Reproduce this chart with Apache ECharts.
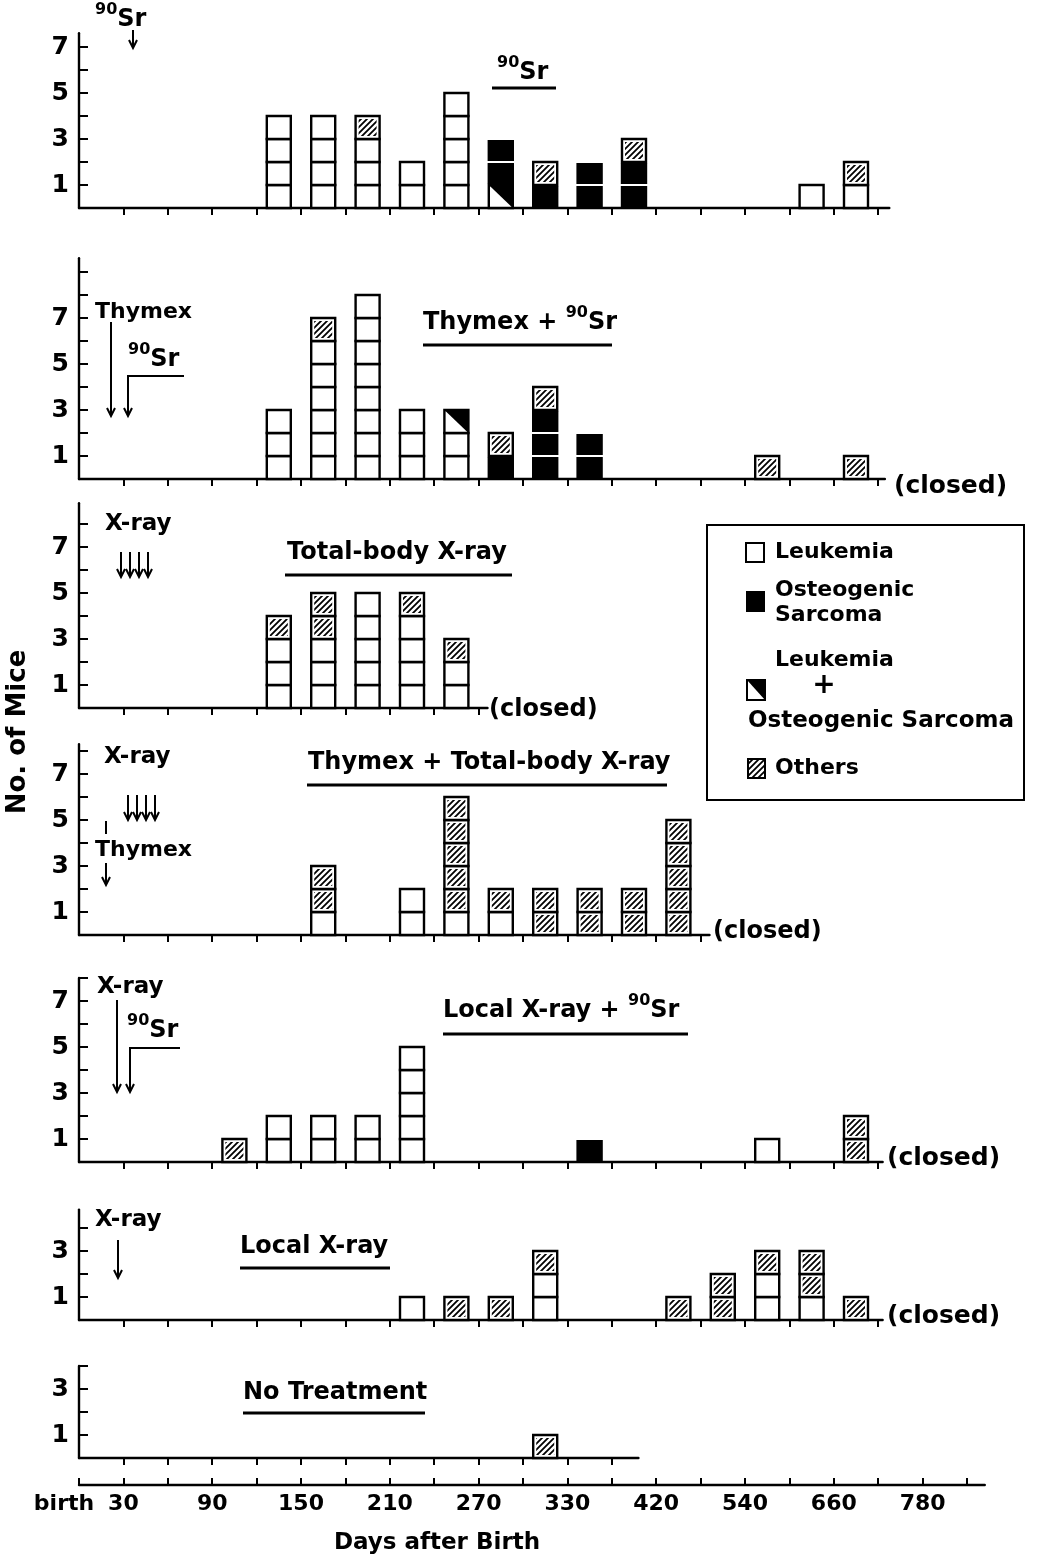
<!DOCTYPE html>
<html><head><meta charset="utf-8">
<script src="https://cdn.jsdelivr.net/npm/echarts@6/dist/echarts.min.js"></script>
<style>html,body{margin:0;padding:0;background:#fff}#c{width:1043px;height:1558px}</style>
</head><body><div id="c"></div>
<script>
// ---- DATA (bin = index of the tick interval after birth; counts of mice per cause) ----
const p1Bins    = [4,5,6,7,8,9,10,11,12,16,17];
const p1Leuk    = [4,4,3,2,5,0,0,0,0,1,1];
const p1LeukOst = [0,0,0,0,0,1,0,0,0,0,0];
const p1Ost     = [0,0,0,0,0,2,1,2,2,0,0];
const p1Other   = [0,0,1,0,0,0,1,0,1,0,1];

const p2Bins    = [4,5,6,7,8,9,10,11,15,17];
const p2Leuk    = [3,6,8,3,2,0,0,0,0,0];
const p2LeukOst = [0,0,0,0,1,0,0,0,0,0];
const p2Ost     = [0,0,0,0,0,1,3,2,0,0];
const p2Other   = [0,1,0,0,0,1,1,0,1,1];

const p3Bins    = [4,5,6,7,8];
const p3Leuk    = [3,3,5,4,2];
const p3Other   = [1,2,0,1,1];

const p4Bins    = [5,7,8,9,10,11,12,13];
const p4Leuk    = [1,2,1,1,0,0,0,0];
const p4Other   = [2,0,5,1,2,2,2,5];

const p5Bins    = [3,4,5,6,7,11,15,17];
const p5Leuk    = [0,2,2,2,5,0,1,0];
const p5Ost     = [0,0,0,0,0,1,0,0];
const p5Other   = [1,0,0,0,0,0,0,2];

const p6Bins    = [7,8,9,10,13,14,15,16,17];
const p6Leuk    = [1,0,0,2,0,0,2,1,0];
const p6Other   = [0,1,1,1,1,2,1,2,1];

const p7Bins    = [10];
const p7Other   = [1];

const dayTickPos    = [0,1,3,5,7,9,11,13,15,17,19];
const dayTickLabels = ['birth','30','90','150','210','270','330','420','540','660','780'];
const yTickLabels   = [1,3,5,7];

// ---- build ----
const FONT = '"DejaVu Sans", sans-serif';
const zeros = n => new Array(n).fill(0);
function rows(bins, leuk, lo, ost, oth) {
  const n = bins.length;
  leuk = leuk || zeros(n); lo = lo || zeros(n); ost = ost || zeros(n); oth = oth || zeros(n);
  return bins.map((b, i) => [b + 0.5, leuk[i], lo[i], ost[i], oth[i], leuk[i] + lo[i] + ost[i] + oth[i]]);
}
const panels = [
  {data: rows(p1Bins, p1Leuk, p1LeukOst, p1Ost, p1Other), base: 208, yMax: 7.6, xMax: 18.25},
  {data: rows(p2Bins, p2Leuk, p2LeukOst, p2Ost, p2Other), base: 479, yMax: 9.6, xMax: 18.15},
  {data: rows(p3Bins, p3Leuk, null, null, p3Other),       base: 708, yMax: 8.9, xMax: 9.2},
  {data: rows(p4Bins, p4Leuk, null, null, p4Other),       base: 935, yMax: 8.3, xMax: 14.2},
  {data: rows(p5Bins, p5Leuk, null, p5Ost, p5Other),      base: 1162, yMax: 8.0, xMax: 18.1},
  {data: rows(p6Bins, p6Leuk, null, null, p6Other),       base: 1320, yMax: 4.8, xMax: 18.1},
  {data: rows(p7Bins, null, null, null, p7Other),         base: 1458, yMax: 4.0, xMax: 12.6}
];
const UNIT = 23, XUNIT = 44.4, LEFT = 79;

const hatch = document.createElement('canvas');
hatch.width = hatch.height = 6;
(function () {
  const g = hatch.getContext('2d');
  g.fillStyle = '#fff'; g.fillRect(0, 0, 6, 6);
  g.strokeStyle = '#000'; g.lineWidth = 1.8;
  g.beginPath();
  g.moveTo(-1, 7); g.lineTo(7, -1);
  g.moveTo(-1, 1); g.lineTo(1, -1);
  g.moveTo(5, 7); g.lineTo(7, 5);
  g.stroke();
})();
const hatchFill = {image: hatch, repeat: 'repeat'};

function boxShapes(t, x0, yT, w, h) {
  const out = [];
  if (t === 2) {
    out.push({type: 'rect', shape: {x: x0 - 1.2, y: yT + 1, width: w + 2.4, height: h - 2}, style: {fill: '#000'}});
    return out;
  }
  out.push({type: 'rect', shape: {x: x0, y: yT, width: w, height: h}, style: {fill: '#fff', stroke: '#000', lineWidth: 2.4}});
  if (t === 1) {
    out.push({type: 'polygon', shape: {points: [[x0, yT], [x0 + w, yT], [x0 + w, yT + h]]}, style: {fill: '#000'}});
  } else if (t === 3) {
    out.push({type: 'rect', shape: {x: x0 + 3, y: yT + 3, width: w - 6, height: h - 6}, style: {fill: hatchFill}});
  }
  return out;
}
function renderBoxes(params, api) {
  const x = api.value(0);
  const base = api.coord([x, 0]);
  const unit = api.size([0, 1])[1];
  const w = 24, x0 = base[0] - w / 2;
  const children = [];
  let level = 0;
  for (let t = 0; t < 4; t++) {
    const n = api.value(t + 1);
    for (let i = 0; i < n; i++) {
      const yB = base[1] - level * unit;
      children.push(...boxShapes(t, x0, yB - unit, w, unit));
      level++;
    }
  }
  return {type: 'group', children};
}

const range = (a, b) => { const r = []; for (let i = a; i <= b; i++) r.push(i); return r; };
const axisLine = {show: true, onZero: false, lineStyle: {color: '#000', width: 2.4}};
const grids = [], xAxes = [], yAxes = [], series = [];
panels.forEach((p, i) => {
  const h = p.yMax * UNIT;
  grids.push({left: LEFT, top: p.base - h, width: p.xMax * XUNIT, height: h});
  xAxes.push({type: 'value', gridIndex: i, min: 0, max: p.xMax, axisLine,
    axisTick: {show: true, customValues: range(1, Math.floor(p.xMax)), length: 7, lineStyle: {color: '#000', width: 2}},
    axisLabel: {show: false}, splitLine: {show: false}});
  yAxes.push({type: 'value', gridIndex: i, min: 0, max: p.yMax, axisLine,
    axisTick: {show: true, inside: true, customValues: range(1, Math.floor(p.yMax)), length: 9, lineStyle: {color: '#000', width: 2}},
    axisLabel: {customValues: yTickLabels.filter(v => v < p.yMax), color: '#000', fontSize: 25, fontWeight: 'bold', fontFamily: FONT, margin: 10},
    splitLine: {show: false}});
  series.push({type: 'custom', name: 'panel' + (i + 1), xAxisIndex: i, yAxisIndex: i,
    data: p.data, encode: {x: 0, y: 5}, renderItem: renderBoxes, clip: false});
});
// bottom "Days after Birth" axis
grids.push({left: LEFT, top: 1484, width: 20.4 * XUNIT, height: 1});
xAxes.push({type: 'value', gridIndex: 7, min: 0, max: 20.4, position: 'bottom', axisLine,
  axisTick: {show: true, inside: true, customValues: range(0, 20), length: 7, lineStyle: {color: '#000', width: 2}},
  axisLabel: {customValues: dayTickPos, color: '#000', fontSize: 22, fontWeight: 'bold', fontFamily: FONT, margin: 8,
    formatter: v => { const i = dayTickPos.indexOf(v); return i === 0 ? '{b|' + dayTickLabels[0] + '}' : dayTickLabels[i]; },
    rich: {b: {fontSize: 22, fontWeight: 'bold', fontFamily: FONT, color: '#000', padding: [0, 30, 0, 0]}}},
  splitLine: {show: false}});
yAxes.push({type: 'value', gridIndex: 7, show: false, min: 0, max: 1});

// ---- annotations ----
const G = [];
const txtStyle = (size) => ({font: 'bold ' + size + 'px ' + FONT, fill: '#000'});
function text(str, x, y, size, opt) {
  opt = opt || {};
  G.push({type: 'text', x, y, rotation: opt.rotation || 0, style: Object.assign({text: str, textAlign: opt.align || 'left', textVerticalAlign: 'middle',
    align: opt.align || 'left', verticalAlign: 'middle'}, txtStyle(size), opt.style || {})});
}
const richSr = {
  n: {fontSize: 24, fontWeight: 'bold', fontFamily: FONT, lineHeight: 30, verticalAlign: 'bottom'},
  s: {fontSize: 16, fontWeight: 'bold', fontFamily: FONT, lineHeight: 30, verticalAlign: 'top'}
};
function richText(str, x, y) {
  G.push({type: 'text', x, y, style: {text: str, rich: richSr, textAlign: 'left', align: 'left', textVerticalAlign: 'middle', verticalAlign: 'middle', fill: '#000'}});
}
function line(pts, w) { G.push({type: 'polyline', shape: {points: pts}, style: {stroke: '#000', lineWidth: w || 2, fill: null}}); }
function arrow(x, y1, y2) {
  line([[x, y1], [x, y2]], 2);
  line([[x - 4, y2 - 8], [x, y2], [x + 4, y2 - 8]], 2);
}
// panel 1
richText('{s|90}{n|Sr}', 95, 17);
arrow(133, 30, 48);
richText('{s|90}{n|Sr}', 497, 70);
line([[492, 88], [556, 88]], 3);
// panel 2
text('Thymex', 95, 312, 22);
arrow(111, 322, 416);
richText('{s|90}{n|Sr}', 128, 357);
line([[184, 376], [128, 376], [128, 416]], 2);
line([[124, 408], [128, 416], [132, 408]], 2);
richText('{n|Thymex + }{s|90}{n|Sr}', 423, 320);
line([[423, 345], [612, 345]], 3);
text('(closed)', 894, 486, 25);
// panel 3
text('X-ray', 105, 524, 23);
[121, 130, 139, 148].forEach(x => arrow(x, 552, 577));
text('Total-body X-ray', 287, 553, 24);
line([[285, 575], [512, 575]], 3);
text('(closed)', 489, 710, 24);
// panel 4
text('X-ray', 104, 757, 23);
[128, 137, 146, 155].forEach(x => arrow(x, 795, 820));
line([[106, 821], [106, 834]], 2);
text('Thymex', 95, 850, 22);
arrow(106, 863, 885);
text('Thymex + Total-body X-ray', 308, 763, 24);
line([[307, 785], [667, 785]], 3);
text('(closed)', 713, 932, 24);
// panel 5
text('X-ray', 97, 987, 23);
arrow(117, 1000, 1092);
richText('{s|90}{n|Sr}', 127, 1028);
line([[180, 1048], [130, 1048], [130, 1092]], 2);
line([[126, 1084], [130, 1092], [134, 1084]], 2);
richText('{n|Local X-ray + }{s|90}{n|Sr}', 443, 1008);
line([[443, 1034], [688, 1034]], 3);
text('(closed)', 887, 1158, 25);
// panel 6
text('X-ray', 95, 1220, 23);
arrow(118, 1240, 1278);
text('Local X-ray', 240, 1247, 24);
line([[240, 1268], [390, 1268]], 3);
text('(closed)', 887, 1316, 25);
// panel 7
text('No Treatment', 243, 1393, 24);
line([[243, 1413], [425, 1413]], 3);
// axis titles
text('No. of Mice', 18, 732, 26, {align: 'center', rotation: Math.PI / 2});
text('Days after Birth', 437, 1543, 23, {align: 'center'});
// legend box
G.push({type: 'rect', shape: {x: 707, y: 525, width: 317, height: 275}, style: {fill: '#fff', stroke: '#000', lineWidth: 2}});
G.push({type: 'rect', shape: {x: 746, y: 543, width: 18, height: 19}, style: {fill: '#fff', stroke: '#000', lineWidth: 2}});
text('Leukemia', 775, 552, 22);
G.push({type: 'rect', shape: {x: 746, y: 591, width: 19, height: 21}, style: {fill: '#000'}});
text('Osteogenic', 775, 590, 22);
text('Sarcoma', 775, 615, 22);
G.push({type: 'rect', shape: {x: 747, y: 680, width: 18, height: 20}, style: {fill: '#fff', stroke: '#000', lineWidth: 2}});
G.push({type: 'polygon', shape: {points: [[747, 680], [765, 680], [765, 700]]}, style: {fill: '#000'}});
text('Leukemia', 775, 660, 22);
text('+', 824, 686, 28, {align: 'center'});
text('Osteogenic Sarcoma', 748, 721, 23);
G.push({type: 'rect', shape: {x: 748, y: 759, width: 17, height: 19}, style: {fill: hatchFill, stroke: '#000', lineWidth: 2}});
text('Others', 775, 768, 22);

const chart = echarts.init(document.getElementById('c'), null, {renderer: 'canvas'});
chart.setOption({
  backgroundColor: '#fff',
  animation: false,
  grid: grids, xAxis: xAxes, yAxis: yAxes, series,
  graphic: {elements: G}
});
</script></body></html>
